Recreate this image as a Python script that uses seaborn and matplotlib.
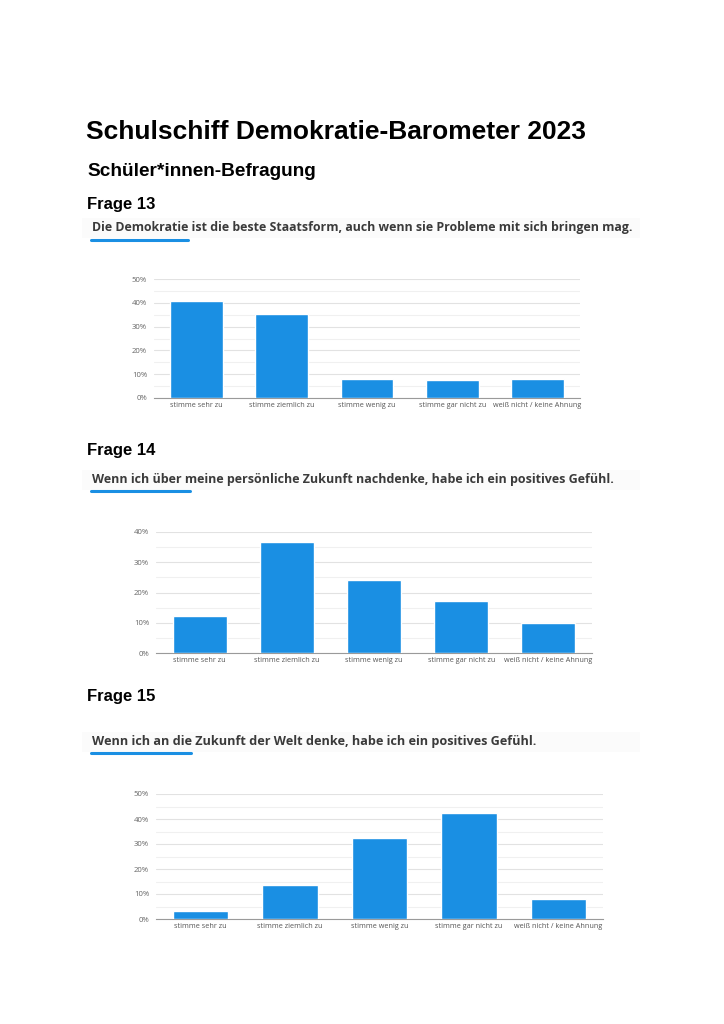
import numpy as np
import pandas as pd
import seaborn as sns
import matplotlib.pyplot as plt
from matplotlib.ticker import MultipleLocator, FuncFormatter
from matplotlib.patches import Rectangle
from matplotlib.lines import Line2D

# answer categories (same for all three questions)
categories = ["stimme sehr zu", "stimme ziemlich zu", "stimme wenig zu",
              "stimme gar nicht zu", "weiß nicht / keine Ahnung"]

# percentages
frage13 = [40.9, 35.1, 8.1, 7.4, 7.9]
frage14 = [12.3, 36.7, 24.1, 17.3, 9.8]
frage15 = [3.3, 13.8, 32.4, 42.4, 7.9]

questions = [
    "Die Demokratie ist die beste Staatsform, auch wenn sie Probleme mit sich bringen mag.",
    "Wenn ich über meine persönliche Zukunft nachdenke, habe ich ein positives Gefühl.",
    "Wenn ich an die Zukunft der Welt denke, habe ich ein positives Gefühl.",
]
frage_labels = ["Frage 13", "Frage 14", "Frage 15"]
y_max = [50, 40, 50]

W, H = 724, 1024
BLUE = "#1a8fe3"

sns.set_theme(style="white")
plt.rcParams["font.family"] = ["Liberation Sans", "DejaVu Sans"]

fig = plt.figure(figsize=(W / 100, H / 100), dpi=100)
fig.patch.set_facecolor("white")


def fx(x):
    return x / W


def fy(y):
    return 1 - y / H


# headings
fig.text(fx(86), fy(132), "Schulschiff Demokratie-Barometer 2023", fontsize=19,
         fontweight="bold", color="black", va="center", ha="left")
fig.text(fx(87), fy(171), "Schüler*innen-Befragung", fontsize=13.7,
         fontweight="bold", color="black", va="center", ha="left")

# layout of each block: (frage y, question y, underline y, underline end, axes rect in px)
blocks = [
    (205, 228, 240, 188, (154, 279, 580, 398)),
    (450, 480, 491, 190, (156, 532, 592, 653)),
    (696, 742, 753, 191, (156, 794, 603, 919)),
]
q_sizes = [8.95, 9.0, 9.1]

for i, (fq, qy, uy, ux, rect) in enumerate(blocks):
    values = [frage13, frage14, frage15][i]

    fig.text(fx(87), fy(fq), frage_labels[i], fontsize=12, fontweight="bold",
             color="black", va="center", ha="left")

    # very faint band behind the question text
    fig.patches.append(Rectangle((fx(82), fy(qy + 10)), fx(558), 20 / H,
                                 transform=fig.transFigure, facecolor="#fbfbfb",
                                 edgecolor="none", zorder=0))
    fig.text(fx(92), fy(qy), questions[i], fontsize=q_sizes[i], fontweight="bold",
             family=["Open Sans", "DejaVu Sans"], color="#3a3a3a",
             va="center", ha="left")
    fig.lines.append(Line2D([fx(91), fx(ux)], [fy(uy), fy(uy)],
                            transform=fig.transFigure, color=BLUE, linewidth=2.2))

    l, t, r, b = rect
    ax = fig.add_axes([fx(l), fy(b), (r - l) / W, (b - t) / H])
    df = pd.DataFrame({"antwort": categories, "prozent": values})
    sns.barplot(data=df, x="antwort", y="prozent", color=BLUE, width=0.62,
                saturation=1, ax=ax, zorder=3)

    ax.set_ylim(0, y_max[i])
    ax.set_xlim(-0.5, 4.5)
    ax.yaxis.set_major_locator(MultipleLocator(10))
    ax.yaxis.set_minor_locator(MultipleLocator(5))
    ax.yaxis.set_major_formatter(FuncFormatter(lambda v, p: f"{v:.0f}%"))
    ax.grid(axis="y", which="major", color="#e2e2e2", linewidth=0.8, zorder=0)
    ax.grid(axis="y", which="minor", color="#f0f0f0", linewidth=0.8, zorder=0)
    ax.set_axisbelow(True)
    ax.set_xlabel("")
    ax.set_ylabel("")
    for s in ["top", "right", "left"]:
        ax.spines[s].set_visible(False)
    ax.spines["bottom"].set_color("#9a9a9a")
    ax.spines["bottom"].set_linewidth(0.8)
    ax.tick_params(axis="x", which="both", length=0, colors="#555555",
                   labelsize=5.2, pad=3)
    ax.tick_params(axis="y", which="both", length=0, colors="#666666",
                   labelsize=5.6, pad=5)
    for lab in ax.get_xticklabels() + ax.get_yticklabels():
        lab.set_family(["Open Sans", "DejaVu Sans"])
    ax.set_facecolor("white")

fig.savefig("out.png", dpi=100, facecolor="white")
